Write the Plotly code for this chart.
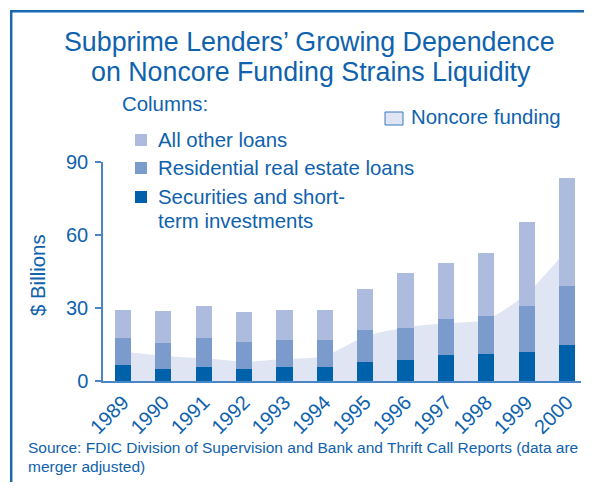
import plotly.graph_objects as go

years = ["1989", "1990", "1991", "1992", "1993", "1994", "1995", "1996", "1997", "1998", "1999", "2000"]
securities = [6.5, 5.0, 5.8, 5.0, 5.8, 5.8, 7.8, 8.7, 10.7, 11.1, 12.0, 14.9]
residential = [11.3, 10.7, 12.0, 11.1, 11.1, 11.1, 13.3, 13.2, 14.9, 15.7, 19.0, 24.3]
other_loans = [11.4, 13.1, 13.2, 12.3, 12.3, 12.3, 16.9, 22.3, 22.7, 26.0, 34.2, 44.2]
noncore = [12.0, 10.4, 9.3, 8.0, 9.0, 10.4, 18.3, 22.0, 23.8, 25.3, 36.0, 54.0]
yticks = [0, 30, 60, 90]

OFF = 8  # page body margin
W, H = 592 - 2 * OFF, 474
L, R, T, B = 103, 581, 162, 381   # screen pixels of plot area
FONT = "Liberation Sans, Arial, sans-serif"
TXT = "#0f62ad"
AX = "#4a86c6"
C_SEC = "#0061ab"
C_RES = "#7b9bcc"
C_OTH = "#adbcde"
C_AREA = "#e0e5f3"

def px(x):
    return (x - L) / (R - L)

def py(y):
    return (B - y) / (B - T)

idx = list(range(len(years)))
xr = [-0.4955, 11.348]

fig = go.Figure()
fig.add_trace(go.Scatter(x=idx, y=noncore, mode="lines", line=dict(width=0, shape="spline", smoothing=0.8),
                         fill="tozeroy", fillcolor=C_AREA, xaxis="x", yaxis="y", showlegend=False, hoverinfo="skip"))
for vals, col in [(securities, C_SEC), (residential, C_RES), (other_loans, C_OTH)]:
    fig.add_trace(go.Bar(x=idx, y=vals, marker=dict(color=col, line=dict(width=0)), width=0.4,
                         xaxis="x2", yaxis="y2", showlegend=False))

fig.update_layout(
    width=W, height=H,
    margin=dict(l=L - OFF, r=(OFF + W) - R, t=T - OFF, b=(OFF + H) - B),
    paper_bgcolor="white", plot_bgcolor="white",
    barmode="stack",
    showlegend=False,
    font=dict(family=FONT, color=TXT),
    xaxis=dict(range=xr, tickvals=idx, ticktext=years, tickangle=-45, tickfont=dict(size=20, color=TXT),
               showgrid=False, zeroline=False, showline=True, linecolor=AX, linewidth=1.5, ticks="",
               fixedrange=True),
    yaxis=dict(range=[0, 90], tickvals=yticks, tickfont=dict(size=20, color=TXT), showgrid=False,
               zeroline=False, showline=True, linecolor=AX, linewidth=1.5, ticks="outside", ticklen=6,
               tickcolor=AX, tickwidth=1.5, ticklabelstandoff=3),
    xaxis2=dict(range=xr, overlaying="x", anchor="y2", visible=False),
    yaxis2=dict(range=[0, 90], overlaying="y", anchor="x2", visible=False),
)

ann = []
def text(x, y, s, size, anchor="left", angle=0):
    ann.append(dict(x=px(x), y=py(y), xref="paper", yref="paper", text=s, showarrow=False,
                    xanchor=anchor, yanchor="middle", textangle=angle,
                    font=dict(size=size, color=TXT, family=FONT)))

text(309, 42, "Subprime Lenders’ Growing Dependence", 26.8, "center")
text(311, 72, "on Noncore Funding Strains Liquidity", 26.8, "center")
text(120, 104, "Columns:", 20.4)
text(156, 140, "All other loans", 20.4)
text(156, 168, "Residential real estate loans", 20.4)
text(156, 197, "Securities and short-", 20.4)
text(156, 221, "term investments", 20.4)
text(409, 117, "Noncore funding", 20.4)
text(38, 275, "$ Billions", 20.4, "center", -90)
text(26, 447, "Source: FDIC Division of Supervision and Bank and Thrift Call Reports (data are", 15.5)
text(26, 466, "merger adjusted)", 15.5)

shapes = []
def rect(x0, y0, x1, y1, fill, line=None):
    shapes.append(dict(type="rect", xref="paper", yref="paper", x0=px(x0), x1=px(x1), y0=py(y0), y1=py(y1),
                       fillcolor=fill, line=dict(width=1 if line else 0, color=line or fill)))

rect(135, 134, 147, 146, C_OTH)
rect(135, 162, 147, 174, C_RES)
rect(135, 191, 147, 203, C_SEC)
rect(385, 112, 403, 125, C_AREA, "#3a78bf")

shapes.append(dict(type="line", xref="paper", yref="paper", x0=px(11.2), x1=px(OFF + W), y0=py(11.2), y1=py(11.2),
                   line=dict(color="#1b67b1", width=2.5)))
shapes.append(dict(type="line", xref="paper", yref="paper", x0=px(11.2), x1=px(11.2), y0=py(10), y1=py(OFF + H),
                   line=dict(color="#1b67b1", width=2.5)))

fig.update_layout(annotations=ann, shapes=shapes)
fig.write_html("out.html")
